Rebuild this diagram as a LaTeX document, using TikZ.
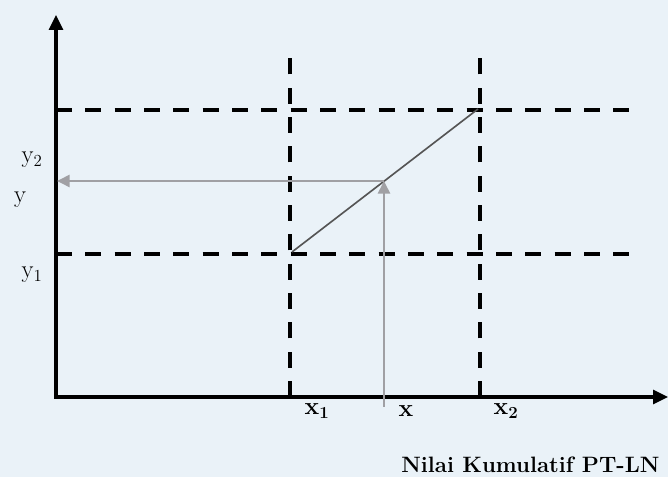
\documentclass[tikz,border=0pt]{standalone}
\usepackage{xcolor}
\usetikzlibrary{arrows.meta,positioning}
\definecolor{paper}{RGB}{234,242,248}
\definecolor{guidegray}{RGB}{160,160,164}
\definecolor{curvegray}{RGB}{85,85,85}

\begin{document}
\begin{tikzpicture}[x=0.03cm,y=0.03cm,font=\fontsize{21}{25}\selectfont]
    \tikzset{axis/.style={line width=2.6pt, -{Triangle[length=0.45cm,width=0.42cm]}},
             grid/.style={line width=2.6pt, dash pattern=on 0.48cm off 0.4cm},
             guide/.style={draw=guidegray, line width=2.2pt, -{Triangle[length=0.38cm,width=0.36cm]}},
             lbl/.style={inner sep=1pt}}
    \fill[paper] (0,0) rectangle (668,477);
    \clip (0,0) rectangle (668,477);
    % corners of the chart
    \coordinate (O) at (56,80);
    \coordinate (ytop) at (56,462);
    \coordinate (xend) at (668,80);
    \coordinate (x1top) at (290,427);
    \coordinate (x1bot) at (290,80);
    \coordinate (x2top) at (480,427);
    \coordinate (x2bot) at (480,80);
    \coordinate (y1left) at (56,223);
    \coordinate (y1right) at (635,223);
    \coordinate (y2left) at (56,367);
    \coordinate (y2right) at (635,367);
    \coordinate (p1) at (292,225);
    \coordinate (p2) at (478,368);
    \coordinate (p) at (384,296);
    \coordinate (xfoot) at (384,70);
    \coordinate (yfoot) at (57,296);
    % dashed bounds
    \draw[grid] (x1bot) -- (x1top);
    \draw[grid] (x2bot) -- (x2top);
    \draw[grid] (y1left) -- (y1right);
    \draw[grid] (y2left) -- (y2right);
    % axes
    \draw[axis] (O) -- (ytop);
    \draw[axis] ([xshift=-1.3pt]O) -- (xend);
    % interpolation
    \draw[curvegray, line width=1.4pt] (p1) -- (p2);
    \draw[guide] (xfoot) -- (p);
    \draw[guide] (p) -- (yfoot);
    % labels
    \node[lbl] (y2lbl) at (32,317) {y$_2$};
    \node[lbl] (ylbl) at (20,277) {y};
    \node[lbl] (y1lbl) at (32,202) {y$_1$};
    \node[lbl] (x1lbl) at (317,66) {\textbf{x}$_{\mathbf{1}}$};
    \node[lbl] (xlbl) at (406,66) {\textbf{x}};
    \node[lbl] (x2lbl) at (506,66) {\textbf{x}$_{\mathbf{2}}$};
    \node[lbl, anchor=west, font=\fontsize{19}{23}\selectfont\bfseries] (title) at (400,12) {Nilai Kumulatif PT-LN};
  \end{tikzpicture}
\end{document}
